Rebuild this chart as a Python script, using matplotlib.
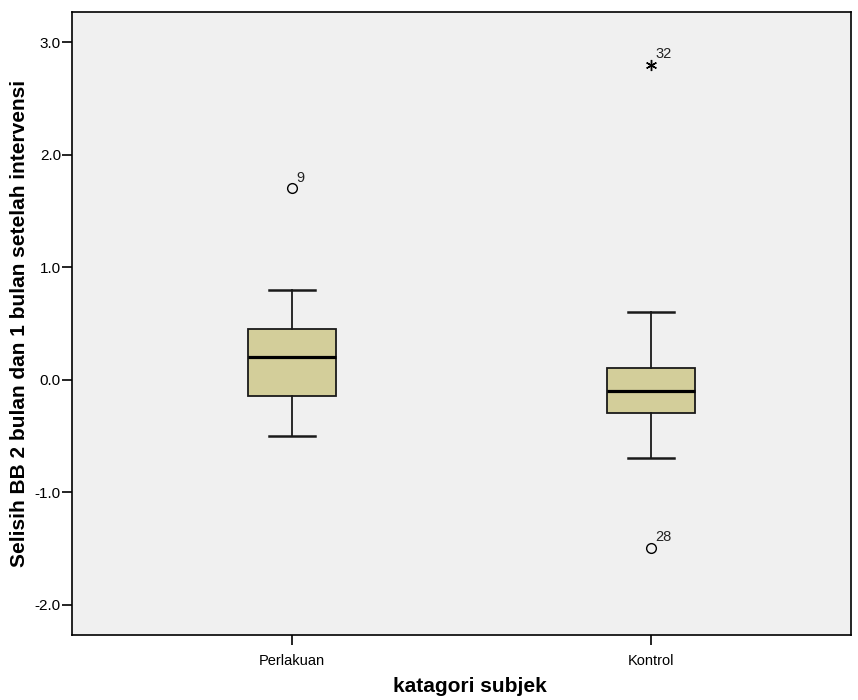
import matplotlib.pyplot as plt

plt.rcParams['font.family'] = ['Liberation Sans', 'DejaVu Sans']

groups = ['Perlakuan', 'Kontrol']
q1 = [-0.15, -0.30]
median = [0.20, -0.10]
q3 = [0.45, 0.10]
whisker_low = [-0.50, -0.70]
whisker_high = [0.80, 0.60]

# outliers: group index, value, case number, kind
out_group = [0, 1, 1]
out_value = [1.70, -1.50, 2.80]
out_case = ['9', '28', '32']
out_kind = ['o', 'o', '*']

fig = plt.figure(figsize=(8.58, 7.0), dpi=100)
ax = fig.add_axes([0.084, 0.093, 0.908, 0.89])
ax.set_facecolor('#f0f0f0')

stats = []
for i in range(len(groups)):
    stats.append(dict(med=median[i], q1=q1[i], q3=q3[i],
                      whislo=whisker_low[i], whishi=whisker_high[i], fliers=[]))

pos = [1, 2]
ax.bxp(stats, positions=pos, widths=0.245, patch_artist=True, showfliers=False,
       boxprops=dict(facecolor='#d3ce9a', edgecolor='#1a1a1a', linewidth=1.3),
       medianprops=dict(color='black', linewidth=2.3),
       whiskerprops=dict(color='#1a1a1a', linewidth=1.3),
       capprops=dict(color='#1a1a1a', linewidth=1.8), capwidths=0.128)

for g, v, c, k in zip(out_group, out_value, out_case, out_kind):
    x = pos[g]
    if k == 'o':
        ax.plot(x, v, marker='o', markersize=7, markerfacecolor='none',
                markeredgecolor='black', markeredgewidth=1.0)
    else:
        ax.plot(x, v, marker=(6, 2, 0), markersize=8, color='black',
                markeredgewidth=1.0)
    ax.annotate(c, (x, v), xytext=(3, 5), textcoords='offset points',
                fontsize=10.5, color='#222222')

ax.set_xlim(0.387, 2.557)
ax.set_ylim(-2.27, 3.27)
ax.set_yticks([-2, -1, 0, 1, 2, 3])
ax.set_yticklabels(['-2.0', '-1.0', '0.0', '1.0', '2.0', '3.0'])
ax.set_xticks(pos)
ax.set_xticklabels(groups)
ax.tick_params(axis='both', direction='out', length=7, width=1.2,
               colors='black')
ax.tick_params(axis='y', pad=1, labelsize=11)
ax.tick_params(axis='x', pad=7, labelsize=10.5)
for s in ax.spines.values():
    s.set_linewidth(1.2)

ax.set_xlabel('katagori subjek', fontsize=15, fontweight='bold')
ax.xaxis.set_label_coords(0.511, -0.068)
ax.set_ylabel('Selisih BB 2 bulan dan 1 bulan setelah intervensi',
              fontsize=15, fontweight='bold', labelpad=4)

fig.savefig('out.png', dpi=100)
